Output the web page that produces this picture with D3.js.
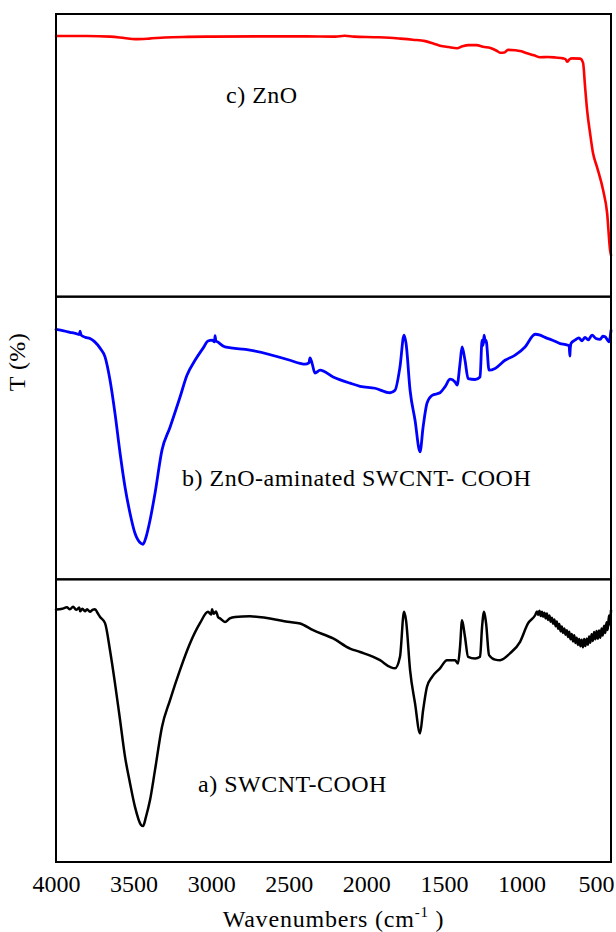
<!DOCTYPE html>
<html>
<head>
<meta charset="utf-8">
<script src="https://cdn.jsdelivr.net/npm/d3@7/dist/d3.min.js"></script>
<style>
  html, body { margin: 0; padding: 0; background: #fff; }
  svg { display: block; }
</style>
</head>
<body>
<div id="chart"></div>
<script>
// FTIR spectra, wavenumber (cm-1) vs. transmittance (% of each panel's span)
const tickValues = [4000, 3500, 3000, 2500, 2000, 1500, 1000, 500];

// c) ZnO
const znoWn = [4000,3800,3650,3560,3490,3400,3300,3150,3000,2700,2400,2200,2140,2080,1950,1850,1780,1700,
  1620,1560,1525,1470,1415,1380,1340,1290,1248,1200,1160,1138,1110,1087,1040,1000,964,920,880,830,780,732,
  715,706,690,674,622,603,590,577,558,539,513,474,448,429,423];
const znoT = [92.2,92.2,92.0,91.5,91.1,91.3,91.7,91.9,92.0,92.1,92.1,92.0,92.3,92.0,91.8,91.6,91.3,90.9,
  90.4,89.4,88.8,88.3,87.9,88.6,89.0,89.0,88.4,88.0,87.0,86.3,86.4,87.3,87.2,86.8,86.1,85.4,84.7,84.8,84.6,84.3,
  84.0,83.1,84.0,84.3,84.2,82.7,74.2,66.0,57.9,50.8,45.8,37.7,29.6,16.5,14.7];

// b) ZnO-aminated SWCNT-COOH
const hybridWn = [4000,3950,3910,3870,3850,3845,3838,3810,3781,3750,3716,3684,3652,3620,3587,3555,3523,3491,3452,
  3439,3420,3394,3362,3317,3265,3201,3156,3104,3052,3020,2994,2978,2975,2970,2956,2911,2750,2492,2427,2395,
  2370,2363,2350,2331,2298,2214,2105,2040,1944,1847,1815,1783,1757,1744,1718,1686,1654,1634,1609,1576,1525,
  1493,1460,1428,1415,1396,1383,1364,1344,1299,1267,1254,1247,1241,1233,1228,1209,1170,1106,1041,977,912,
  880,848,800,751,715,693,688,687,680,655,630,610,590,570,545,520,493,475,461,445,436,423];
const hybridT = [88.4,87.9,87.4,86.9,86.6,87.8,86.4,85.6,85.2,84.0,81.8,78.7,70.5,58.8,44.6,32.6,23.4,16.3,12.7,
  12.4,14.9,20.9,30.4,45.7,53.8,64.4,72.2,77.5,81.8,84.3,84.6,84.0,86.2,84.4,83.9,82.2,81.1,77.5,76.4,76.1,
  76.6,78.3,76.5,73.0,74.0,71.6,69.4,68.3,67.6,66.0,66.9,75.2,86.4,83.5,66.9,56.3,45.1,53.9,62.3,65.1,66.0,
  68.1,70.8,69.8,68.7,76.4,82.2,77.5,71.0,70.7,71.6,84.6,82.8,86.4,84.0,84.5,74.0,74.6,77.5,79.3,82.2,86.7,
  86.4,85.6,84.6,83.4,83.0,82.6,79.0,80.4,83.5,84.6,85.4,84.4,85.6,84.7,86.4,85.2,84.9,86.0,85.8,84.6,84.0,88.1];

// a) SWCNT-COOH
const swcntWn = [4000,3960,3930,3910,3890,3870,3850,3845,3830,3813,3800,3781,3765,3749,3730,3716,3684,3652,3620,
  3587,3555,3523,3491,3452,3439,3420,3394,3362,3317,3265,3201,3136,3072,3020,3000,2994,2985,2969,2955,2943,
  2911,2880,2846,2750,2492,2427,2343,2214,2105,2040,1912,1847,1815,1783,1757,1744,1718,1686,1654,1634,1609,
  1576,1525,1480,1428,1409,1396,1383,1364,1344,1299,1267,1254,1241,1228,1209,1170,1138,1074,1009,958,912,
  900,892,884,876,868,860,852,844,836,828,820,812,804,796,788,780,772,764,756,748,740,732,724,716,708,700,
  692,684,676,668,660,652,644,636,628,620,612,604,596,588,580,572,564,556,548,540,532,524,516,508,500,492,
  484,476,468,460,452,444,436,430,423];
const swcntT = [89.3,89.6,90.1,89.4,90.3,89.2,90.0,88.7,89.6,88.7,89.4,88.5,89.2,89.4,87.9,86.7,84.5,74.9,63.3,
  50.2,37.2,27.9,19.5,13.1,12.7,16.0,21.9,32.5,47.8,57.3,67.9,77.4,84.5,88.5,87.6,89.4,87.8,88.6,86.6,86.2,
  84.9,86.2,86.7,86.9,84.9,84.4,82.0,79.1,75.5,74.3,71.4,69.0,68.5,72.6,88.5,85.5,67.9,56.1,45.5,53.7,62.0,
  65.5,68.5,71.4,71.4,70.2,76.1,85.5,79.6,72.6,72.0,72.6,83.2,88.5,84.4,73.2,71.6,71.4,73.8,77.9,84.4,87.3,
  88.6,87.4,88.9,87.0,88.5,86.8,88.2,86.2,87.9,85.6,87.2,85.0,86.4,84.3,85.8,83.4,85.1,82.5,84.2,81.6,83.3,
  81.0,82.6,80.4,82.0,79.6,81.5,78.8,80.7,78.0,80.2,77.5,79.3,76.8,78.9,76.3,78.6,76.0,78.9,76.4,79.0,76.9,
  79.8,77.6,80.6,78.2,81.4,78.8,81.7,79.0,81.9,79.3,82.6,80.1,83.6,81.0,84.8,82.1,87.2,84.0,89.0];

const panelLabels = ["c) ZnO", "b) ZnO-aminated SWCNT- COOH", "a) SWCNT-COOH"];

const FONT = "'Liberation Serif', 'DejaVu Serif', serif";

const series = [
  { wn: znoWn, t: znoT, color: "#ff0000", width: 2.6, label: panelLabels[0], lx: 226, ly: 103 },
  { wn: hybridWn, t: hybridT, color: "#0000ff", width: 2.8, label: panelLabels[1], lx: 182, ly: 486 },
  { wn: swcntWn, t: swcntT, color: "#000000", width: 2.5, label: panelLabels[2], lx: 198, ly: 792 }
];

const W = 616, H = 932;
const plotLeft = 56, plotRight = 611, plotTop = 14, plotBottom = 862;
const panelH = (plotBottom - plotTop) / series.length;

const svg = d3.select("#chart").append("svg").attr("width", W).attr("height", H);

const x = d3.scaleLinear().domain([4000, 423]).range([plotLeft, plotRight]);

series.forEach((s, i) => {
  const pTop = plotTop + i * panelH, pBot = pTop + panelH;
  const y = d3.scaleLinear().domain([0, 100]).range([pBot, pTop]);
  const pts = s.wn.map((w, k) => ({ w, t: s.t[k] }));
  const line = d3.line().x(d => x(d.w)).y(d => y(d.t)).curve(d3.curveMonotoneX);

  svg.append("path")
    .datum(pts)
    .attr("d", line)
    .attr("fill", "none")
    .attr("stroke", s.color)
    .attr("stroke-width", s.width)
    .attr("stroke-linejoin", "round")
    .attr("stroke-linecap", "round");

  svg.append("text")
    .attr("x", s.lx).attr("y", s.ly)
    .attr("font-family", FONT)
    .attr("font-size", 24)
    .attr("letter-spacing", 0.5)
    .text(s.label);
});

// panel frames
series.forEach((s, i) => {
  svg.append("rect")
    .attr("x", plotLeft).attr("y", plotTop + i * panelH)
    .attr("width", plotRight - plotLeft).attr("height", panelH)
    .attr("fill", "none").attr("stroke", "#000").attr("stroke-width", 2);
});

// bottom axis (no tick marks, labels only)
const axis = svg.append("g")
  .attr("transform", `translate(0,${plotBottom})`)
  .call(d3.axisBottom(x).tickValues(tickValues).tickSize(0).tickPadding(13).tickFormat(d3.format("d")));
axis.attr("font-family", FONT);
axis.select(".domain").remove();
axis.selectAll("text")
  .attr("font-size", 24)
  .attr("font-family", FONT)
  .attr("fill", "#000");
// keep the last label inside the page edge
axis.selectAll(".tick").filter(d => d === 500).select("text")
  .attr("text-anchor", "end").attr("x", 614 - x(500));

// axis titles
const xt = svg.append("text")
  .attr("x", (plotLeft + plotRight) / 2).attr("y", 927)
  .attr("text-anchor", "middle")
  .attr("font-family", FONT)
  .attr("font-size", 24)
  .attr("letter-spacing", 0.8);
xt.append("tspan").text("Wavenumbers (cm");
xt.append("tspan").attr("font-size", 15).attr("dy", -10).text("-1");
xt.append("tspan").attr("dy", 10).text(" )");

svg.append("text")
  .attr("transform", "translate(25,362) rotate(-90)")
  .attr("text-anchor", "middle")
  .attr("font-family", FONT)
  .attr("font-size", 24)
  .attr("letter-spacing", 0.5)
  .text("T (%)");
</script>
</body>
</html>
